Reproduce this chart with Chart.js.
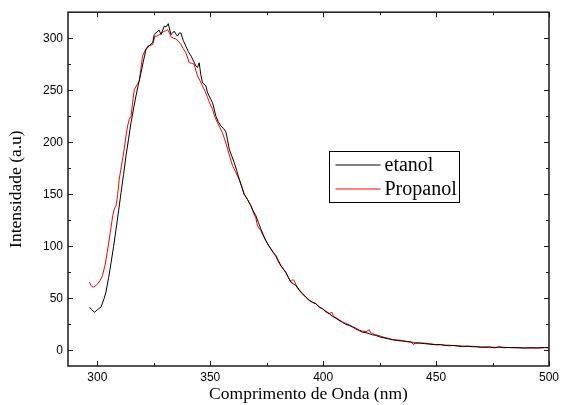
<!DOCTYPE html>
<html><head><meta charset="utf-8">
<script src="https://cdn.jsdelivr.net/npm/chart.js@4.4.0/dist/chart.umd.min.js"></script>
<style>html,body{margin:0;padding:0;background:#fff}#c{display:block}</style>
</head><body>
<canvas id="c" width="563" height="405"></canvas>
<script>
const xTicks = [300, 350, 400, 450, 500];
const yTicks = [0, 50, 100, 150, 200, 250, 300];
const seriesNames = ['etanol', 'Propanol'];

const etanolX = [296.5,297.5,298.7,300,301.6,303,303.8,305,306.1,307.2,308.3,309.4,310.5,311.6,312.7,313.8,314.9,316,317.1,318.2,319.3,320.4,321.5,323,324.5,325.2,326.3,327.4,328.2,329.6,330.5,331.4,332.6,333.3,334,334.8,335.5,336.3,337,338,339.2,340.3,341.5,342.6,343.7,344.4,345.1,345.8,346.6,347.3,348.1,348.8,350.3,351,352.5,353.5,354.7,356,356.9,357.6,358.4,359.5,360.6,361.7,362.8,364,365,366.5,368,369,370.2,371.3,372.4,373.5,374.6,375.8,376.9,378,379.1,380.2,381.3,382.4,383.5,384.6,385.7,386.8,387.9,389.3,390.8,392.3,393.8,395.3,396.8,398.2,399.7,401.2,402.7,404,405.5,407,408.5,410,411.5,413,414.5,416,417.4,419,420.4,421.8,423.3,425,427,429,430.7,433,435,437,439,440,441,443,445,447,449.9,452,454,456,458,460,461.6,464,466,468,470,473.5,476,478,480,483,486.7,489,492,495,498,500];
const etanolY = [41.5,39,36.7,39,41.5,50,56,70,84.7,100,116.7,134,151.8,169,187,203,218.8,232,244.5,256,266.8,278,289,293,295.6,303.5,306,307.7,303.5,311.5,311,314,303.5,305,306.7,304,302,305,305,298,292.4,287,282.8,278,273,272,276.4,265,257,256,254,247.6,241,238,225,220,215.7,213,210,203,193.4,187,180.5,173,164.6,157,150.2,145,139,134,129.4,123,116.7,111,105.5,101,97.5,94,91,86,81.5,78,75,70,65.5,64,62.3,58,54.3,51,48,46,44.8,41.5,40,37,35.2,33,31,29,27,25,24,22.4,20.5,19,17.5,17,16,15,14.4,13,12,11,10.2,9.5,9,8.5,8,6,7,7,6.5,6,5.4,5.5,4.8,4.5,4.8,4,3.8,4,3.5,3.5,3,3.2,2.5,3.5,2.6,2.8,2.5,2.2,2.6,2.2,2.8,2.5];

const propanolX = [296.5,297.3,298.2,299.2,300.1,301.2,302.3,303.5,304.6,305.7,306.8,307.5,308.3,309,309.7,310.8,311.9,312.6,313.4,314.1,314.9,315.6,316.4,317.5,318.6,319.3,320,321.1,322.3,323.4,324.5,325.5,326.4,327.4,328.5,329.6,330.3,331.1,331.9,332.6,333.7,334.8,335.9,337,338,339.2,340,340.7,341.8,342.9,343.6,344.4,345.5,346.6,347.7,348.8,349.9,351,352.1,353.2,354.3,355.4,356.5,357.7,358.8,359.9,361.3,362.8,364,365,366.5,368,369,370.2,370.9,372.4,373.5,374.6,376,376.9,378,379.1,380.2,381.3,382.4,383.5,384.6,385.7,386.5,387.2,388,389.3,390.8,392.3,393.8,395.3,396.8,398.2,399.7,401,402.7,403.9,404.5,406,407,408.5,410,411.5,413,414.5,416,417.4,419,420.4,421,422,423.3,425,427,429,430.7,433,435,437,439,441,443,445,447,449.9,452,454,456,458,460,461.6,464,466,468,470,473.5,476,478,480,483,486.7,489,492,495,498,500];
const propanolY = [65.5,62,60.7,62,64,67,72,83,97.5,113,129.4,136,139,150,164.6,179,193.4,205,215.7,222,225,238,251,255,258.8,271,282.8,288,292.4,293,294,302,302,303.5,305,306.7,307,308.3,305,301.4,300,299.4,297,294,290,286,281,276.4,276,274.8,269,263.6,259,254,249,243,237,231.7,224,218.8,214,209,202,193.4,185,177.4,171,164.6,157,150,145,139,133,127,119.8,115,110,105.5,100,97,93.5,90,85,81,78,74.5,70,66,68,67,63,58.5,55,51.5,48.5,46.5,45,42,40,38,35.5,36.5,33,31,29.5,27.5,26,24.5,23,21.5,19.5,18.5,18,19.8,17,16,15,14,12.5,11.5,10.5,10,9.5,8.5,8,7.5,7,7,6.5,5.6,5.5,5,5,4.5,4.5,4,4,4,3.5,3.2,3.2,3,2.8,3,2.6,2.5,2.5,2.2,2.6,2.5,2.8];

const toPts = (xs, ys) => xs.map((x, i) => ({x: x, y: ys[i]}));
const SANS = "'Liberation Sans', Arial, sans-serif";
const SERIF = "'Liberation Serif', 'Times New Roman', serif";
const FRAME = '#1a1a1a';

const framePlugin = {
  id: 'frame',
  afterDraw(chart) {
    const ctx = chart.ctx, a = chart.chartArea;
    const xs = chart.scales.x, ys = chart.scales.y;
    ctx.save();
    ctx.strokeStyle = FRAME;
    ctx.lineWidth = 1.5;
    ctx.strokeRect(a.left, a.top, a.right - a.left, a.bottom - a.top);
    ctx.lineWidth = 1;
    const major = 5, minor = 3;
    for (let i = 0; i < xTicks.length; i++) {
      const px = Math.round(xs.getPixelForValue(xTicks[i])) + 0.5;
      ctx.beginPath(); ctx.moveTo(px, a.bottom); ctx.lineTo(px, a.bottom - major); ctx.stroke();
      ctx.beginPath(); ctx.moveTo(px, a.top); ctx.lineTo(px, a.top + major); ctx.stroke();
      if (i < xTicks.length - 1) {
        const mx = Math.round(xs.getPixelForValue((xTicks[i] + xTicks[i+1]) / 2)) + 0.5;
        ctx.beginPath(); ctx.moveTo(mx, a.bottom); ctx.lineTo(mx, a.bottom - minor); ctx.stroke();
        ctx.beginPath(); ctx.moveTo(mx, a.top); ctx.lineTo(mx, a.top + minor); ctx.stroke();
      }
    }
    for (let i = 0; i < yTicks.length; i++) {
      const py = Math.round(ys.getPixelForValue(yTicks[i])) + 0.5;
      ctx.beginPath(); ctx.moveTo(a.left, py); ctx.lineTo(a.left + major, py); ctx.stroke();
      ctx.beginPath(); ctx.moveTo(a.right, py); ctx.lineTo(a.right - major, py); ctx.stroke();
      const mv = yTicks[i] + 25;
      if (mv < ys.max) {
        const my = Math.round(ys.getPixelForValue(mv)) + 0.5;
        ctx.beginPath(); ctx.moveTo(a.left, my); ctx.lineTo(a.left + minor, my); ctx.stroke();
        ctx.beginPath(); ctx.moveTo(a.right, my); ctx.lineTo(a.right - minor, my); ctx.stroke();
      }
    }
    // legend
    const lx = 329.5, ly = 151.5, lw = 130, lh = 51;
    ctx.lineWidth = 1;
    ctx.strokeStyle = '#000';
    ctx.strokeRect(lx, ly, lw, lh);
    ctx.font = '20px ' + SERIF;
    ctx.textBaseline = 'middle';
    ctx.fillStyle = '#000';
    chart.data.datasets.forEach((ds, i) => {
      const yy = ly + 13.5 + i * 24;
      ctx.strokeStyle = ds.borderColor;
      ctx.beginPath(); ctx.moveTo(lx + 6, yy); ctx.lineTo(lx + 51, yy); ctx.stroke();
      ctx.fillText(ds.label, lx + 55, yy + 1);
    });
    ctx.restore();
  }
};

new Chart(document.getElementById('c'), {
  type: 'line',
  data: {
    datasets: [
      {label: seriesNames[0], data: toPts(etanolX, etanolY), borderColor: '#000000', borderWidth: 1, pointRadius: 0, tension: 0, fill: false},
      {label: seriesNames[1], data: toPts(propanolX, propanolY), borderColor: '#ff0000', borderWidth: 1, pointRadius: 0, tension: 0, fill: false}
    ]
  },
  options: {
    responsive: false,
    animation: false,
    devicePixelRatio: 1,
    layout: {padding: {left: 0, right: 13, top: 11, bottom: 0}},
    plugins: {legend: {display: false}, tooltip: {enabled: false}},
    scales: {
      x: {
        type: 'linear', min: 287, max: 500,
        afterBuildTicks: s => { s.ticks = xTicks.map(v => ({value: v})); },
        afterFit: s => { s.height = 39; },
        grid: {display: false, drawTicks: false},
        border: {display: false},
        ticks: {font: {family: SANS, size: 12}, color: '#000', padding: 4, maxRotation: 0, autoSkip: false},
        title: {display: true, text: 'Comprimento de Onda (nm)', font: {family: SERIF, size: 17.5}, color: '#000', padding: {top: 1, bottom: 0}}
      },
      y: {
        type: 'linear', min: -15, max: 325,
        afterBuildTicks: s => { s.ticks = yTicks.map(v => ({value: v})); },
        afterFit: s => { s.width = 68; },
        grid: {display: false, drawTicks: false},
        border: {display: false},
        ticks: {font: {family: SANS, size: 12}, color: '#000', padding: 5, autoSkip: false},
        title: {display: true, text: 'Intensidade (a.u)', font: {family: SERIF, size: 17.5}, color: '#000', padding: {top: 6, bottom: 4}}
      }
    }
  },
  plugins: [framePlugin]
});
</script>
</body></html>
